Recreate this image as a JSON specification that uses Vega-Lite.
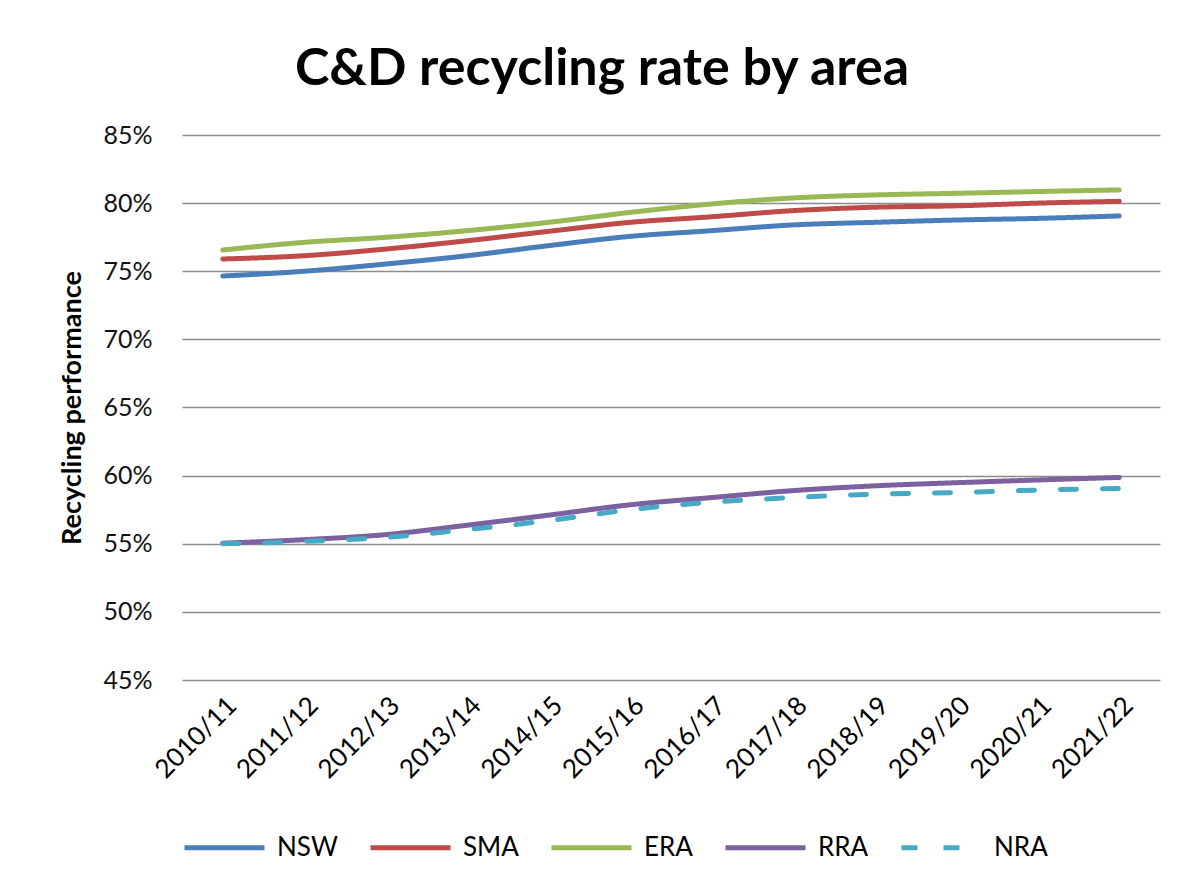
{
  "$schema": "https://vega.github.io/schema/vega-lite/v6.json",
  "width": 978,
  "height": 545,
  "padding": {"left": 58, "top": 43, "right": 38, "bottom": 10},
  "background": "white",
  "title": {
    "text": "C&D recycling rate by area",
    "font": "Lato",
    "fontSize": 52,
    "fontWeight": "bold",
    "color": "#000000",
    "anchor": "middle",
    "frame": "group",
    "dx": -69,
    "offset": 27
  },
  "data": {
    "values": [
      {"year": "2010/11", "area": "NSW", "rate": 0.7465},
      {"year": "2011/12", "area": "NSW", "rate": 0.7500},
      {"year": "2012/13", "area": "NSW", "rate": 0.7553},
      {"year": "2013/14", "area": "NSW", "rate": 0.7614},
      {"year": "2014/15", "area": "NSW", "rate": 0.7688},
      {"year": "2015/16", "area": "NSW", "rate": 0.7756},
      {"year": "2016/17", "area": "NSW", "rate": 0.7798},
      {"year": "2017/18", "area": "NSW", "rate": 0.7840},
      {"year": "2018/19", "area": "NSW", "rate": 0.7859},
      {"year": "2019/20", "area": "NSW", "rate": 0.7876},
      {"year": "2020/21", "area": "NSW", "rate": 0.7888},
      {"year": "2021/22", "area": "NSW", "rate": 0.7906},
      {"year": "2010/11", "area": "SMA", "rate": 0.7590},
      {"year": "2011/12", "area": "SMA", "rate": 0.7614},
      {"year": "2012/13", "area": "SMA", "rate": 0.7663},
      {"year": "2013/14", "area": "SMA", "rate": 0.7724},
      {"year": "2014/15", "area": "SMA", "rate": 0.7793},
      {"year": "2015/16", "area": "SMA", "rate": 0.7859},
      {"year": "2016/17", "area": "SMA", "rate": 0.7900},
      {"year": "2017/18", "area": "SMA", "rate": 0.7945},
      {"year": "2018/19", "area": "SMA", "rate": 0.7970},
      {"year": "2019/20", "area": "SMA", "rate": 0.7980},
      {"year": "2020/21", "area": "SMA", "rate": 0.8000},
      {"year": "2021/22", "area": "SMA", "rate": 0.8013},
      {"year": "2010/11", "area": "ERA", "rate": 0.7656},
      {"year": "2011/12", "area": "ERA", "rate": 0.7712},
      {"year": "2012/13", "area": "ERA", "rate": 0.7749},
      {"year": "2013/14", "area": "ERA", "rate": 0.7798},
      {"year": "2014/15", "area": "ERA", "rate": 0.7859},
      {"year": "2015/16", "area": "ERA", "rate": 0.7932},
      {"year": "2016/17", "area": "ERA", "rate": 0.7994},
      {"year": "2017/18", "area": "ERA", "rate": 0.8038},
      {"year": "2018/19", "area": "ERA", "rate": 0.8060},
      {"year": "2019/20", "area": "ERA", "rate": 0.8072},
      {"year": "2020/21", "area": "ERA", "rate": 0.8085},
      {"year": "2021/22", "area": "ERA", "rate": 0.8097},
      {"year": "2010/11", "area": "RRA", "rate": 0.5504},
      {"year": "2011/12", "area": "RRA", "rate": 0.5530},
      {"year": "2012/13", "area": "RRA", "rate": 0.5567},
      {"year": "2013/14", "area": "RRA", "rate": 0.5636},
      {"year": "2014/15", "area": "RRA", "rate": 0.5710},
      {"year": "2015/16", "area": "RRA", "rate": 0.5786},
      {"year": "2016/17", "area": "RRA", "rate": 0.5839},
      {"year": "2017/18", "area": "RRA", "rate": 0.5890},
      {"year": "2018/19", "area": "RRA", "rate": 0.5925},
      {"year": "2019/20", "area": "RRA", "rate": 0.5948},
      {"year": "2020/21", "area": "RRA", "rate": 0.5968},
      {"year": "2021/22", "area": "RRA", "rate": 0.5987},
      {"year": "2010/11", "area": "NRA", "rate": 0.5500},
      {"year": "2011/12", "area": "NRA", "rate": 0.5517},
      {"year": "2012/13", "area": "NRA", "rate": 0.5547},
      {"year": "2013/14", "area": "NRA", "rate": 0.5604},
      {"year": "2014/15", "area": "NRA", "rate": 0.5670},
      {"year": "2015/16", "area": "NRA", "rate": 0.5750},
      {"year": "2016/17", "area": "NRA", "rate": 0.5805},
      {"year": "2017/18", "area": "NRA", "rate": 0.5839},
      {"year": "2018/19", "area": "NRA", "rate": 0.5864},
      {"year": "2019/20", "area": "NRA", "rate": 0.5876},
      {"year": "2020/21", "area": "NRA", "rate": 0.5894},
      {"year": "2021/22", "area": "NRA", "rate": 0.5906}
    ]
  },
  "mark": {"type": "line", "strokeWidth": 5, "interpolate": "monotone", "strokeCap": "round"},
  "encoding": {
    "x": {
      "field": "year",
      "type": "ordinal",
      "scale": {"type": "point", "padding": 0.5},
      "axis": {
        "title": null,
        "labelAngle": -45,
        "labelFont": "Lato",
        "labelFontSize": 26,
        "labelColor": "#000000",
        "labelPadding": 12,
        "ticks": false,
        "domain": false,
        "grid": false
      }
    },
    "y": {
      "field": "rate",
      "type": "quantitative",
      "scale": {"domain": [0.45, 0.85], "nice": false, "zero": false},
      "axis": {
        "title": "Recycling performance",
        "titleFont": "Lato",
        "titleFontSize": 27,
        "titleFontWeight": "bold",
        "titleColor": "#000000",
        "titlePadding": 16,
        "values": [0.45, 0.5, 0.55, 0.6, 0.65, 0.7, 0.75, 0.8, 0.85],
        "format": ".0%",
        "labelFont": "Lato",
        "labelFontSize": 25,
        "labelColor": "#111111",
        "labelPadding": 30,
        "ticks": false,
        "domain": false,
        "grid": true,
        "gridColor": "#8c8c8c",
        "gridWidth": 1.5
      }
    },
    "color": {
      "field": "area",
      "type": "nominal",
      "sort": ["NSW", "SMA", "ERA", "RRA", "NRA"],
      "scale": {
        "domain": ["NSW", "SMA", "ERA", "RRA", "NRA"],
        "range": ["#4A7EBB", "#BE4B48", "#98B954", "#7D60A0", "#46AAC5"]
      },
      "legend": {
        "title": null,
        "orient": "bottom",
        "direction": "horizontal",
        "labelFont": "Lato",
        "labelFontSize": 26,
        "labelColor": "#000000",
        "symbolType": "stroke",
        "symbolSize": 6400,
        "symbolStrokeWidth": 5,
        "columnPadding": 22,
        "labelOffset": 10,
        "offset": 22
      }
    },
    "strokeDash": {
      "field": "area",
      "type": "nominal",
      "sort": ["NSW", "SMA", "ERA", "RRA", "NRA"],
      "scale": {
        "domain": ["NSW", "SMA", "ERA", "RRA", "NRA"],
        "range": [[1, 0], [1, 0], [1, 0], [1, 0], [16, 26]]
      }
    }
  },
  "config": {
    "view": {"stroke": null}
  }
}
